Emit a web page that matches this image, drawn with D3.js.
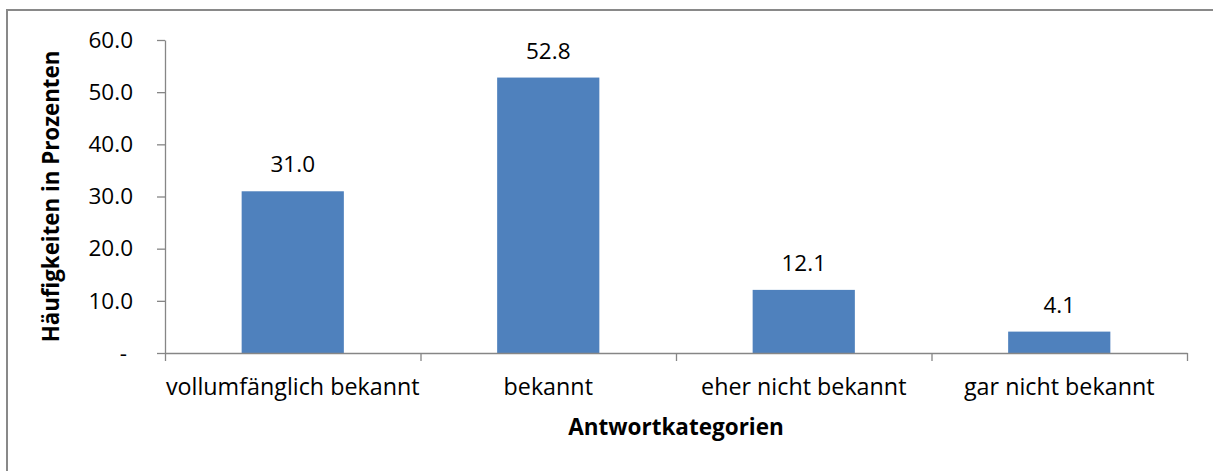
<!DOCTYPE html>
<html>
<head>
<meta charset="utf-8">
<script src="https://cdn.jsdelivr.net/npm/d3@7"></script>
<style>
    body { margin: 0; background: #fff; }
    svg text { font-family: "Open Sans", "Noto Sans", sans-serif; fill: #000; }
    .axis path, .axis line { stroke: #868686; stroke-width: 1.3px; }
</style>
</head>
<body>
<div id="chart"></div>
<script>
// data
let categories = ["vollumfänglich bekannt", "bekannt", "eher nicht bekannt", "gar nicht bekannt"];
let values = [31.0, 52.8, 12.1, 4.1];
let yTicks = [0, 10, 20, 30, 40, 50, 60];

let W = 1213, H = 471;
let margin = {top: 40, right: 26, bottom: 118, left: 165};
let width = W - margin.left - margin.right;
let height = H - margin.top - margin.bottom;

let svg = d3.select("#chart").append("svg")
    .attr("width", W)
    .attr("height", H);

// outer frame
svg.append("rect")
    .attr("x", 7).attr("y", 10)
    .attr("width", W + 20).attr("height", H + 20)
    .attr("fill", "none")
    .attr("stroke", "#898989")
    .attr("stroke-width", 2);

let g = svg.append("g")
    .attr("transform", `translate(${margin.left}, ${margin.top})`);

// scales
let x = d3.scaleBand()
    .domain(categories)
    .range([0, width])
    .paddingInner(0.6)
    .paddingOuter(0.3);

let xEdge = d3.scaleLinear()
    .domain([0, categories.length])
    .range([0, width]);

let y = d3.scaleLinear()
    .domain([0, 60])
    .range([height, 0]);

// bars
g.selectAll(".bar")
    .data(values)
    .enter().append("rect")
    .attr("class", "bar")
    .attr("x", (d, i) => x(categories[i]))
    .attr("y", d => y(d))
    .attr("width", x.bandwidth())
    .attr("height", d => height - y(d))
    .attr("fill", "#4f81bd");

// value labels
g.selectAll(".val")
    .data(values)
    .enter().append("text")
    .attr("class", "val")
    .attr("x", (d, i) => x(categories[i]) + x.bandwidth() / 2)
    .attr("y", d => y(d) - 19)
    .attr("text-anchor", "middle")
    .style("font-size", "22.5px")
    .text(d => d.toFixed(1));

// y axis
let yAxis = d3.axisLeft(y)
    .tickValues(yTicks)
    .tickSize(8)
    .tickSizeOuter(0)
    .tickPadding(24)
    .tickFormat(d => d === 0 ? "-" : d.toFixed(1));

let yG = g.append("g")
    .attr("class", "axis y-axis")
    .call(yAxis);
yG.selectAll("text")
    .style("font-size", "22.5px")
    .attr("dx", d => d === 0 ? -6 : 0);

// x axis: line with ticks at category edges
let xAxis = d3.axisBottom(xEdge)
    .tickValues(d3.range(categories.length + 1))
    .tickSize(8)
    .tickSizeOuter(0)
    .tickFormat("");

g.append("g")
    .attr("class", "axis x-axis")
    .attr("transform", `translate(0, ${height})`)
    .call(xAxis);

// category labels
g.selectAll(".cat")
    .data(categories)
    .enter().append("text")
    .attr("class", "cat")
    .attr("x", d => x(d) + x.bandwidth() / 2)
    .attr("y", height + 42)
    .attr("text-anchor", "middle")
    .style("font-size", "23.3px")
    .text(d => d);

// axis titles
g.append("text")
    .attr("x", width / 2)
    .attr("y", height + 82)
    .attr("text-anchor", "middle")
    .style("font-size", "22.5px")
    .style("font-weight", "bold")
    .text("Antwortkategorien");

g.append("text")
    .attr("transform", `translate(${59 - margin.left}, ${height / 2}) rotate(-90)`)
    .attr("text-anchor", "middle")
    .style("font-size", "22.3px")
    .style("font-weight", "bold")
    .text("Häufigkeiten in Prozenten");
</script>
</body>
</html>
